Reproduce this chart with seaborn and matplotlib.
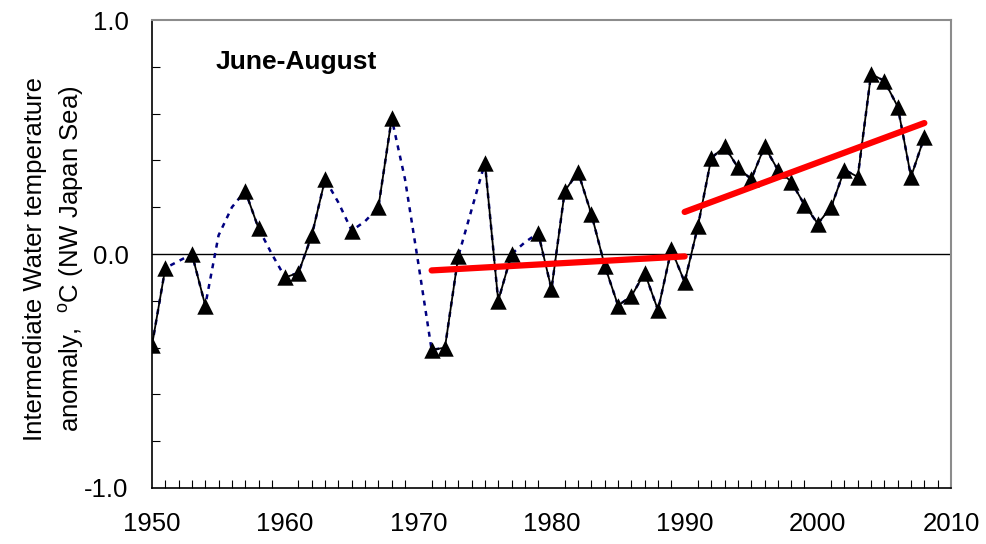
import numpy as np
import pandas as pd
import seaborn as sns
import matplotlib.pyplot as plt
from matplotlib.ticker import MultipleLocator

# observed anomalies (triangles), NaN = no data that year
years = list(range(1950, 2009))
anomaly = [
    -0.39, -0.06, np.nan, 0.00, -0.22, np.nan, np.nan, 0.27, 0.11, np.nan,   # 1950-59
    -0.10, -0.08, 0.08, 0.32, np.nan, 0.10, np.nan, 0.20, 0.58, np.nan,      # 1960-69
    np.nan, -0.41, -0.40, -0.01, np.nan, 0.39, -0.20, 0.00, np.nan, 0.09,    # 1970-79
    -0.15, 0.27, 0.35, 0.17, -0.05, -0.22, -0.18, -0.08, -0.24, 0.02,        # 1980-89
    -0.12, 0.12, 0.41, 0.46, 0.37, 0.32, 0.46, 0.36, 0.31, 0.21,             # 1990-99
    0.13, 0.20, 0.36, 0.33, 0.77, 0.74, 0.63, 0.33, 0.50,                    # 2000-08
]
# values of the dotted curve in the years without triangles
gap_fill = {1952: -0.03, 1955: 0.08, 1956: 0.20, 1959: 0.00, 1964: 0.22,
            1966: 0.14, 1969: 0.32, 1970: -0.04, 1974: 0.19, 1978: 0.05}

# linear trends
trend1_years = [1971, 1990]
trend1_vals = [-0.07, -0.01]
trend2_years = [1990, 2008]
trend2_vals = [0.18, 0.56]

df = pd.DataFrame({"year": years, "anom": anomaly})
df["seg"] = df["anom"].isna().cumsum()
obs = df.dropna()

dotted = df.copy()
dotted["anom"] = [gap_fill.get(y, a) for y, a in zip(years, anomaly)]

sns.set_theme(style="white")
plt.rcParams["font.family"] = ["Liberation Sans", "DejaVu Sans"]
plt.rcParams["mathtext.fontset"] = "custom"
plt.rcParams["mathtext.rm"] = "Liberation Sans"
for k in ["text.color", "axes.labelcolor", "xtick.color", "ytick.color"]:
    plt.rcParams[k] = "black"

fig, ax = plt.subplots(figsize=(9.87, 5.44), dpi=100)
fig.subplots_adjust(left=0.154, right=0.9635, top=0.963, bottom=0.103)

ax.axhline(0, color="black", lw=1, zorder=1)

sns.lineplot(data=dotted, x="year", y="anom", color="#000080", lw=1.8,
             ax=ax, zorder=2)
ax.lines[-1].set_dashes([2.0, 2.2])
sns.lineplot(data=obs, x="year", y="anom", units="seg", estimator=None,
             color="black", lw=1.3, ax=ax, zorder=3)
sns.scatterplot(data=obs, x="year", y="anom", marker="^", s=140,
                color="black", edgecolor="black", linewidth=0, ax=ax, zorder=4)

for ty, tv in [(trend1_years, trend1_vals), (trend2_years, trend2_vals)]:
    t = pd.DataFrame({"year": ty, "anom": tv})
    sns.lineplot(data=t, x="year", y="anom", color="red", lw=4.5, ax=ax,
                 zorder=5, solid_capstyle="round")

ax.set_xlim(1950, 2010)
ax.set_ylim(-1.0, 1.0)
ax.set_xticks(range(1950, 2011, 10))
ax.set_yticks([-1.0, 0.0, 1.0])
ax.set_yticklabels(["-1.0", "0.0", "1.0"])
ax.xaxis.set_minor_locator(MultipleLocator(1))
ax.yaxis.set_minor_locator(MultipleLocator(0.2))
ax.tick_params(axis="both", which="major", direction="out", length=7,
               width=1, labelsize=18.5)
ax.tick_params(axis="x", which="major", pad=10)
ax.tick_params(axis="y", which="major", pad=10)
ax.tick_params(axis="both", which="minor", direction="in", length=6,
               width=0.8, bottom=True, left=True)

for side in ["left", "bottom"]:
    ax.spines[side].set_color("black")
    ax.spines[side].set_linewidth(1.2)
for side in ["top", "right"]:
    ax.spines[side].set_color("#8c8c8c")
    ax.spines[side].set_linewidth(1.5)

ax.set_xlabel("")
ax.set_ylabel("Intermediate Water temperature\nanomaly,  $^{\\rm o}$C (NW Japan Sea)",
              fontsize=18.5, linespacing=1.4)
ax.yaxis.set_label_coords(-0.083, 0.49)

ax.text(0.079, 0.91, "June-August", transform=ax.transAxes, fontsize=19,
        fontweight="bold", ha="left", va="center")

if ax.get_legend():
    ax.get_legend().remove()

plt.savefig("out.png", dpi=100)
